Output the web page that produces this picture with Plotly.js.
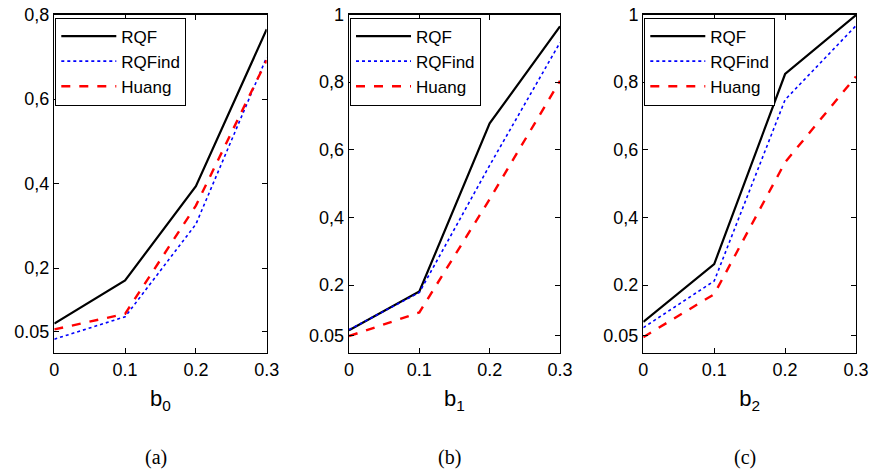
<!DOCTYPE html>
<html>
<head>
<meta charset="utf-8">
<script src="https://cdn.plot.ly/plotly-3.0.1.min.js"></script>
<style>html,body{margin:0;padding:0;background:#fff;}#chart{width:871px;height:474px;}</style>
</head>
<body>
<div id="chart"></div>
<script>
// ---- data ----
const bValues = [0, 0.1, 0.2, 0.3];
const seriesNames = ["RQF", "RQFind", "Huang"];

// panel (a): b0
const rqfA    = [0.069, 0.171, 0.394, 0.765];
const rqfindA = [0.032, 0.085, 0.304, 0.699];
const huangA  = [0.055, 0.092, 0.348, 0.692];

// panel (b): b1
const rqfB    = [0.066, 0.181, 0.678, 0.965];
const rqfindB = [0.068, 0.178, 0.554, 0.917];
const huangB  = [0.049, 0.119, 0.454, 0.804];

// panel (c): b2
const rqfC    = [0.091, 0.262, 0.824, 0.998];
const rqfindC = [0.074, 0.212, 0.748, 0.967];
const huangC  = [0.046, 0.173, 0.563, 0.817];

const xTickVals = [0, 0.1, 0.2, 0.3];
const xTickText = ["0", "0.1", "0.2", "0.3"];
const yTickValsA = [0.05, 0.2, 0.4, 0.6, 0.8];
const yTickTextA = ["0.05", "0,2", "0,4", "0,6", "0,8"];
const yTickValsBC = [0.05, 0.2, 0.4, 0.6, 0.8, 1];
const yTickTextBC = ["0.05", "0.2", "0,4", "0,6", "0,8", "1"];
const xTitles = ["b<sub>0</sub>", "b<sub>1</sub>", "b<sub>2</sub>"];
const captions = ["(a)", "(b)", "(c)"];

// ---- styles ----
const styles = [
  {color: "#000000", width: 2.2, dash: "solid"},
  {color: "#0000ff", width: 1.6, dash: "dot"},
  {color: "#ff0000", width: 2.4, dash: "dash"}
];

const panels = [
  {series: [rqfA, rqfindA, huangA], xa: "x", ya: "y", leg: "legend"},
  {series: [rqfB, rqfindB, huangB], xa: "x2", ya: "y2", leg: "legend2"},
  {series: [rqfC, rqfindC, huangC], xa: "x3", ya: "y3", leg: "legend3"}
];

const traces = [];
panels.forEach(p => {
  p.series.forEach((vals, i) => {
    traces.push({
      type: "scatter", mode: "lines",
      x: bValues, y: vals, name: seriesNames[i],
      xaxis: p.xa, yaxis: p.ya, legend: p.leg,
      line: {color: styles[i].color, width: styles[i].width, dash: styles[i].dash},
      hoverinfo: "skip"
    });
  });
});

const W = 871, H = 474;
const xDomains = [[54.3, 266.7], [349, 560], [643.3, 856]].map(d => [d[0]/W, d[1]/W]);
const yDomain = [1 - 352.7/H, 1 - 14.5/H];
const fontFam = "'Liberation Sans', Arial, sans-serif";

function xaxisDef(i) {
  return {
    domain: xDomains[i], range: [0, 0.3], anchor: i === 0 ? "y" : "y" + (i+1),
    tickmode: "array", tickvals: xTickVals, ticktext: xTickText,
    ticks: "inside", ticklen: 5, tickcolor: "#000", tickwidth: 1,
    showline: true, linecolor: "#000", linewidth: 1.3, mirror: "ticks",
    showgrid: false, zeroline: false,
    tickfont: {family: fontFam, size: 18, color: "#000"},
    title: {text: xTitles[i], font: {family: fontFam, size: 22, color: "#000"}, standoff: 12},
    fixedrange: true
  };
}
function yaxisDef(i) {
  const isA = i === 0;
  return {
    domain: yDomain, range: isA ? [0, 0.8] : [0, 1], anchor: i === 0 ? "x" : "x" + (i+1),
    tickmode: "array",
    tickvals: isA ? yTickValsA : yTickValsBC,
    ticktext: isA ? yTickTextA : yTickTextBC,
    ticks: "inside", ticklen: 5, tickcolor: "#000", tickwidth: 1,
    showline: true, linecolor: "#000", linewidth: 1.3, mirror: "ticks",
    showgrid: false, zeroline: false,
    tickfont: {family: fontFam, size: 18, color: "#000"},
    fixedrange: true
  };
}

function legendDef(i) {
  return {
    x: xDomains[i][0] + 1/W, y: yDomain[1] - 3/H, xanchor: "left", yanchor: "top",
    bgcolor: "#ffffff", bordercolor: "#000", borderwidth: 1,
    font: {family: fontFam, size: 17, color: "#000"},
    tracegroupgap: 0, itemwidth: 55
  };
}

const layout = {
  width: W, height: H,
  margin: {l: 0, r: 0, t: 0, b: 0},
  paper_bgcolor: "#fff", plot_bgcolor: "#fff",
  showlegend: true,
  xaxis: xaxisDef(0), xaxis2: xaxisDef(1), xaxis3: xaxisDef(2),
  yaxis: yaxisDef(0), yaxis2: yaxisDef(1), yaxis3: yaxisDef(2),
  legend: legendDef(0), legend2: legendDef(1), legend3: legendDef(2),
  annotations: captions.map((c, i) => ({
    text: c, xref: "paper", yref: "paper",
    x: (xDomains[i][0] + xDomains[i][1]) / 2 - 5/W, y: 1 - 457/H,
    xanchor: "center", yanchor: "middle", showarrow: false,
    font: {family: "'Liberation Serif', 'DejaVu Serif', serif", size: 20, color: "#000"}
  }))
};

Plotly.newPlot("chart", traces, layout, {staticPlot: true, displayModeBar: false});
</script>
</body>
</html>
